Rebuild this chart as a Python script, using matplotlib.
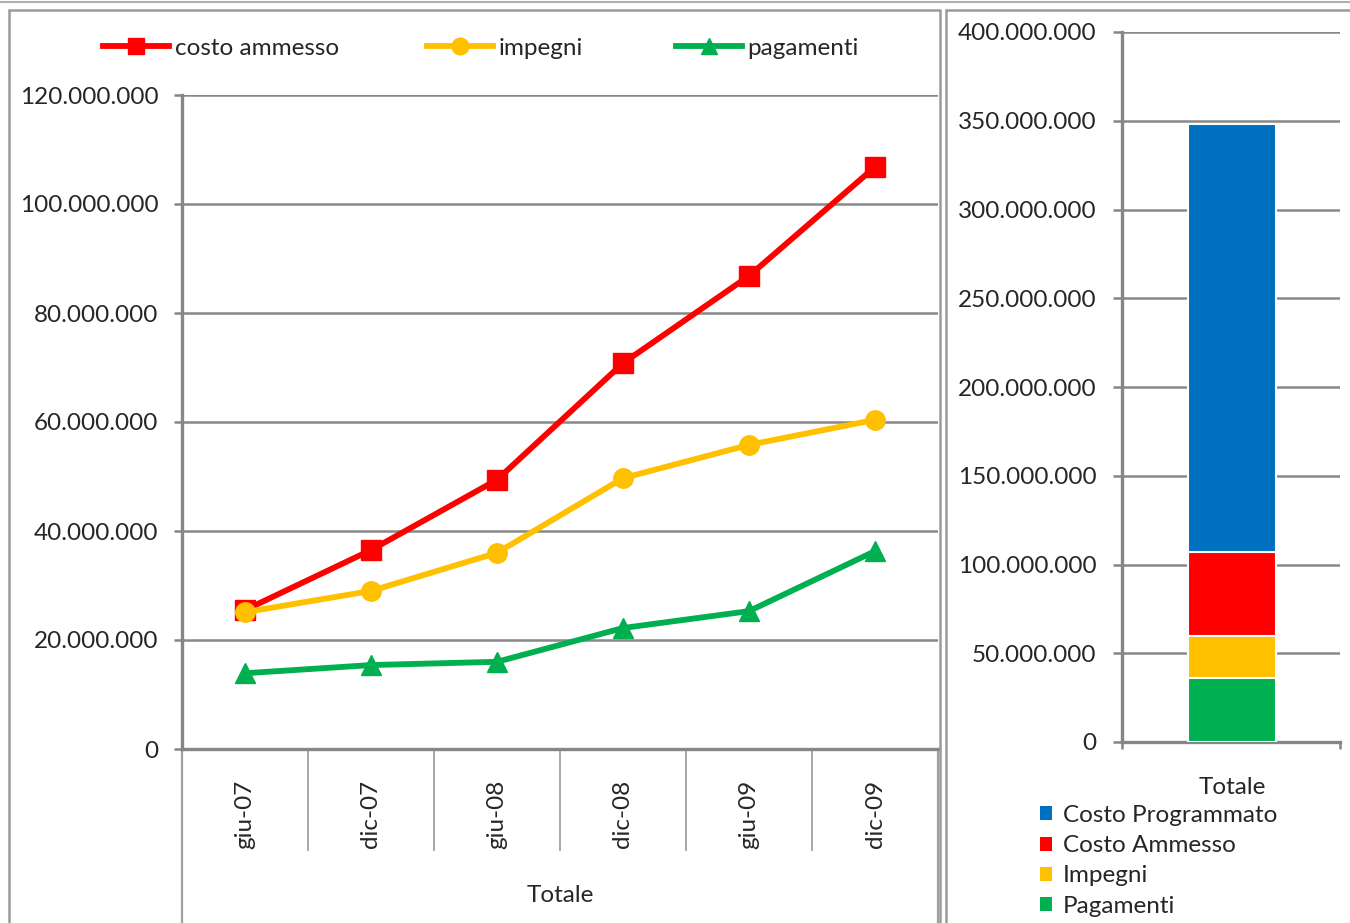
import matplotlib
matplotlib.use("Agg")
import matplotlib.pyplot as plt
from matplotlib.lines import Line2D
from matplotlib.patches import Patch, Rectangle
from matplotlib.ticker import FuncFormatter, MultipleLocator

plt.rcParams['font.family'] = ['Lato', 'DejaVu Sans']

# ---- data ----
periods = ["giu-07", "dic-07", "giu-08", "dic-08", "giu-09", "dic-09"]
costo_ammesso = [25.5e6, 36.5e6, 49.4e6, 70.8e6, 86.8e6, 106.8e6]
impegni = [25.1e6, 29.0e6, 36.0e6, 49.7e6, 55.8e6, 60.4e6]
pagamenti = [13.9e6, 15.4e6, 16.0e6, 22.2e6, 25.3e6, 36.3e6]

tot_labels = ["Costo Programmato", "Costo Ammesso", "Impegni", "Pagamenti"]
tot_values = [348e6, 107e6, 60e6, 36e6]

RED, YEL, GRN, BLU = "#FF0000", "#FFC000", "#00B050", "#0070C0"
GRID = "#888888"
SPINE = "#868686"
TXT = "#262626"
FS = 17.5

W, H = 1350, 923
fig = plt.figure(figsize=(W / 100, H / 100), dpi=100)

def fx(px):
    return px / W

def fy(py):
    return 1 - py / H

fmt = FuncFormatter(lambda v, p: f"{int(round(v)):,}".replace(",", "."))

# ---- panel borders ----
fig.add_artist(Line2D([0, 1], [fy(1.5), fy(1.5)], transform=fig.transFigure, color="#b0b0b0", lw=1.5))
fig.add_artist(Rectangle((fx(9), fy(935)), fx(940 - 9), (935 - 10) / H, transform=fig.transFigure,
                         fill=False, edgecolor="#9a9a9a", lw=1.8))
fig.add_artist(Rectangle((fx(946), fy(935)), fx(1360 - 946), (935 - 10) / H, transform=fig.transFigure,
                         fill=False, edgecolor="#9a9a9a", lw=1.8))

# ---- left chart ----
ax1 = fig.add_axes([fx(182), fy(749), fx(938 - 182), (749 - 95) / H])
x = list(range(len(periods)))
ax1.plot(x, costo_ammesso, color=RED, lw=4.2, marker="s", ms=15, zorder=3)
ax1.plot(x, impegni, color=YEL, lw=4.2, marker="o", ms=14, zorder=4)
ax1.plot(x, pagamenti, color=GRN, lw=4.2, marker="^", ms=15, zorder=3)
ax1.set_xlim(-0.5, len(periods) - 0.5)
ax1.set_ylim(0, 120e6)
ax1.yaxis.set_major_locator(MultipleLocator(20e6))
ax1.yaxis.set_major_formatter(fmt)
ax1.grid(axis="y", color=GRID, lw=1.8)
ax1.set_axisbelow(True)
for s in ["top", "right"]:
    ax1.spines[s].set_visible(False)
for s in ["left", "bottom"]:
    ax1.spines[s].set_color(SPINE)
    ax1.spines[s].set_linewidth(2.4)
ax1.tick_params(axis="y", length=6, width=1.8, color=SPINE, pad=11, labelsize=FS, labelcolor=TXT)
ax1.set_xticks(x)
ax1.set_xticklabels(periods, rotation=90, va="top", ha="center")
ax1.tick_params(axis="x", length=0, pad=22, labelsize=FS, labelcolor=TXT)
tr = ax1.get_xaxis_transform()
for i in range(1, len(periods)):
    ax1.plot([i - 0.5, i - 0.5], [0, -101 / 654], transform=tr, color="#a0a0a0", lw=1.3, clip_on=False)
for xe in [-0.5, len(periods) - 0.5]:
    ax1.plot([xe, xe], [0, -(923 - 749) / 654], transform=tr, color="#a0a0a0", lw=1.6, clip_on=False)
fig.text(fx(560), fy(895), "Totale", ha="center", va="center", fontsize=FS, color=TXT)

# legend top
leg_items = [("costo ammesso", RED, "s", 103), ("impegni", YEL, "o", 427), ("pagamenti", GRN, "^", 676)]
for lab, col, mk, px in leg_items:
    h = Line2D([], [], color=col, lw=4.2, marker=mk, ms=12)
    fig.legend([h], [lab], loc="center left", bbox_to_anchor=(fx(px), fy(48)), frameon=False,
               borderpad=0, borderaxespad=0, handlelength=2.7, handletextpad=0.25,
               fontsize=FS, labelcolor=TXT)

# ---- right chart ----
ax2 = fig.add_axes([fx(1122), fy(742), fx(1340 - 1122), (742 - 32) / H])
cols = [BLU, RED, YEL, GRN]
for v, c in zip(tot_values, cols):
    ax2.bar([0], [v], width=0.404, color=c, edgecolor="white", lw=1.5, zorder=3)
ax2.set_xlim(-0.505, 0.495)
ax2.set_ylim(0, 400e6)
ax2.yaxis.set_major_locator(MultipleLocator(50e6))
ax2.yaxis.set_major_formatter(fmt)
ax2.grid(axis="y", color=GRID, lw=1.8)
ax2.set_axisbelow(True)
for s in ["top", "right"]:
    ax2.spines[s].set_visible(False)
for s in ["left", "bottom"]:
    ax2.spines[s].set_color(SPINE)
    ax2.spines[s].set_linewidth(2.4)
ax2.tick_params(axis="y", length=6.5, width=1.8, color=SPINE, pad=12, labelsize=FS, labelcolor=TXT)
ax2.set_xticks([0])
ax2.set_xticklabels(["Totale"])
ax2.tick_params(axis="x", which="major", length=0, pad=25, labelsize=FS, labelcolor=TXT)
ax2.set_xticks([-0.505, 0.495], minor=True)
ax2.tick_params(axis="x", which="minor", length=5, width=1.8, color=SPINE)

handles = [Patch(facecolor=c, edgecolor="none") for c in cols]
fig.legend(handles, tot_labels, loc="upper left", bbox_to_anchor=(fx(1040), fy(805)), frameon=False,
           borderpad=0, borderaxespad=0, handlelength=0.5, handleheight=0.5, handletextpad=0.45,
           labelspacing=0.38, fontsize=FS, labelcolor=TXT)

fig.savefig("out.png", dpi=100)
